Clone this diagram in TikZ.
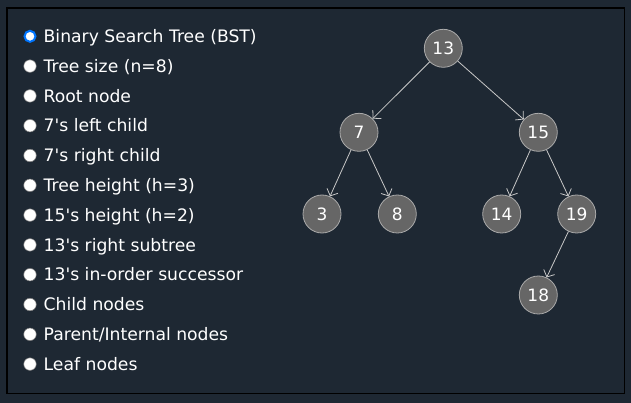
\documentclass[tikz,border=0pt]{standalone}
\usepackage{fontspec}
\setmainfont{DejaVu Sans}
\usetikzlibrary{positioning,arrows.meta}
\definecolor{bgnavy}{RGB}{30,40,51}
\definecolor{nodegray}{RGB}{102,102,102}
\definecolor{rimgray}{RGB}{170,170,170}
\definecolor{edgegray}{RGB}{200,200,200}
\definecolor{checkblue}{RGB}{0,117,255}
\tikzset{
  tnode/.style={draw=rimgray, line width=0.8pt, fill=nodegray, circle, minimum size=38pt, inner sep=0pt, text=white, font=\fontsize{17}{17}\selectfont},
  radio/.style={draw=gray, fill=white, circle, minimum size=12.5pt, inner sep=0pt, line width=0.5pt},
  opt/.style={text=white, font=\fontsize{17.2}{19}\selectfont, inner sep=0pt, text height=12.4pt, text depth=0pt, on grid=false}
}
\begin{document}
\begin{tikzpicture}[x=1pt, y=-1pt, node distance=29.8pt, on grid, >={Straight Barb[length=5.5pt,width=12pt]}]
        \useasboundingbox (0,0) rectangle (631,403);
        \fill[bgnavy] (0,0) rectangle (631,403);
        \draw[black, line width=1.2pt] (7,8) rectangle (624.5,393.5);

        % 选项列表
        \node[radio, draw=checkblue, line width=2pt, minimum size=11pt] (r1) at (30,36.3) {};
        \node[radio, below=of r1] (r2) {};
        \node[radio, below=of r2] (r3) {};
        \node[radio, below=of r3] (r4) {};
        \node[radio, below=of r4] (r5) {};
        \node[radio, below=of r5] (r6) {};
        \node[radio, below=of r6] (r7) {};
        \node[radio, below=of r7] (r8) {};
        \node[radio, below=of r8] (r9) {};
        \node[radio, below=of r9] (r10) {};
        \node[radio, below=of r10] (r11) {};
        \node[radio, below=of r11] (r12) {};
        \node[opt, right=7pt of r1] (o1) {Binary Search Tree (BST)};
        \node[opt, right=7pt of r2] (o2) {Tree size (n=8)};
        \node[opt, right=7pt of r3] (o3) {Root node};
        \node[opt, right=7pt of r4] (o4) {7\textquotesingle s left child};
        \node[opt, right=7pt of r5] (o5) {7\textquotesingle s right child};
        \node[opt, right=7pt of r6] (o6) {Tree height (h=3)};
        \node[opt, right=7pt of r7] (o7) {15\textquotesingle s height (h=2)};
        \node[opt, right=7pt of r8] (o8) {13\textquotesingle s right subtree};
        \node[opt, right=7pt of r9] (o9) {13\textquotesingle s in-order successor};
        \node[opt, right=7pt of r10] (o10) {Child nodes};
        \node[opt, right=7pt of r11] (o11) {Parent/Internal nodes};
        \node[opt, right=7pt of r12] (o12) {Leaf nodes};

        % 树节点
        \node[tnode] (n13) at (443.3,48.3) {13};
        \node[tnode, below left=84pt and 84.3pt of n13] (n7) {7};
        \node[tnode, below right=84pt and 95pt of n13] (n15) {15};
        \node[tnode, below left=81.7pt and 37pt of n7] (n3) {3};
        \node[tnode, below right=81.7pt and 38.3pt of n7] (n8) {8};
        \node[tnode, below left=81.7pt and 36.6pt of n15] (n14) {14};
        \node[tnode, below right=81.7pt and 38.4pt of n15] (n19) {19};
        \node[tnode, below left=81pt and 38.4pt of n19] (n18) {18};

        % 父子边
        \draw[->, edgegray, line width=0.8pt] (n13) -- (n7);
        \draw[->, edgegray, line width=0.8pt] (n13) -- (n15);
        \draw[->, edgegray, line width=0.8pt] (n7) -- (n3);
        \draw[->, edgegray, line width=0.8pt] (n7) -- (n8);
        \draw[->, edgegray, line width=0.8pt] (n15) -- (n14);
        \draw[->, edgegray, line width=0.8pt] (n15) -- (n19);
        \draw[->, edgegray, line width=0.8pt] (n19) -- (n18);
    \end{tikzpicture}
\end{document}
